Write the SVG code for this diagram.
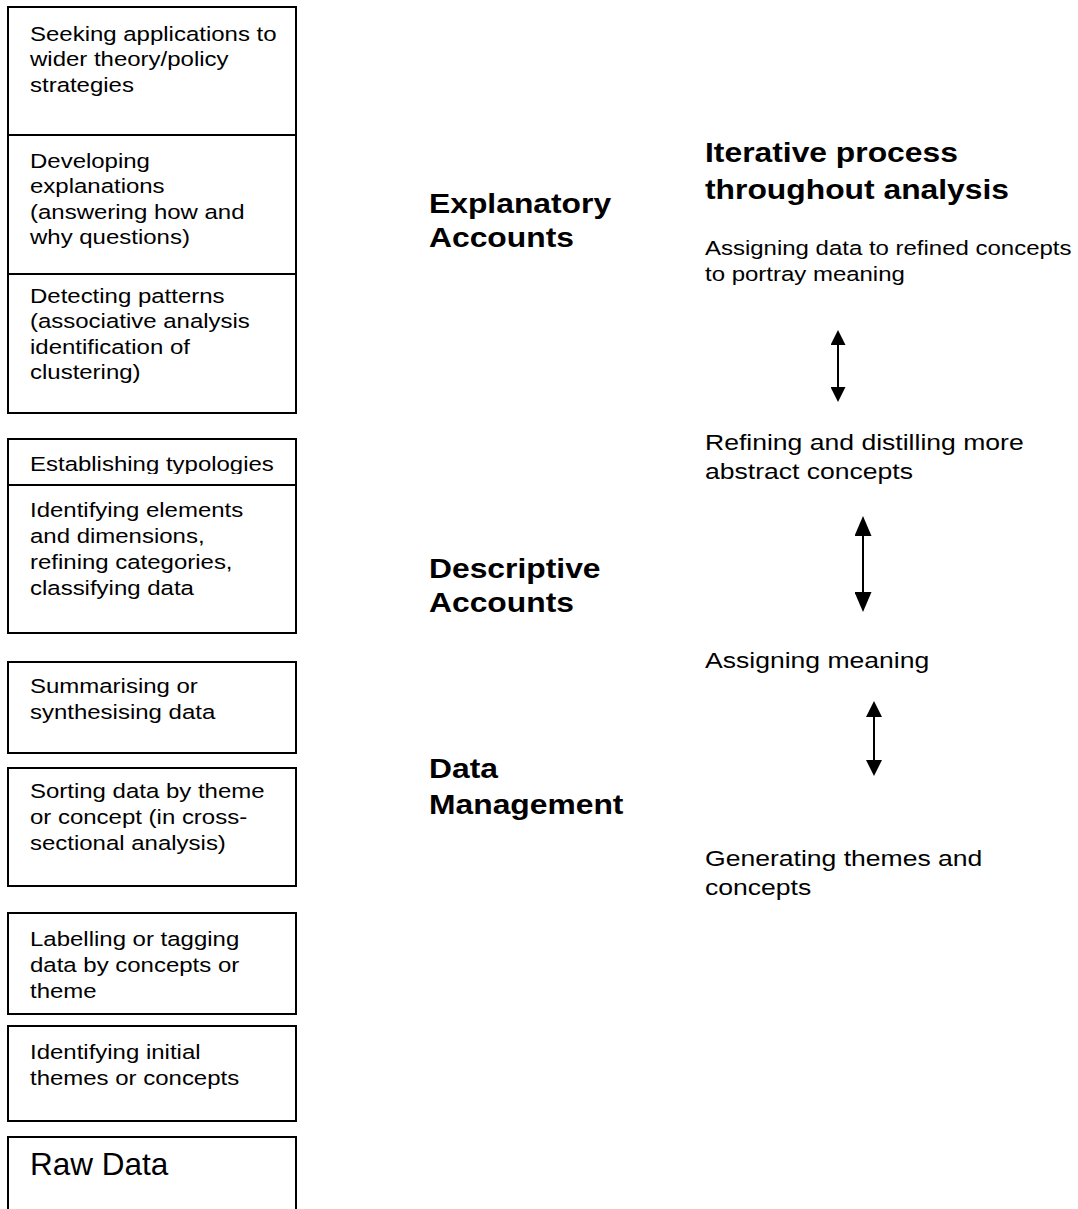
<svg xmlns="http://www.w3.org/2000/svg" width="1078" height="1209" viewBox="0 0 1078 1209">
<style>
.box{fill:#fff;stroke:#000;stroke-width:2}
.t{font-family:"Liberation Sans",Arial,Helvetica,sans-serif;font-size:20.5px;fill:#000}
.m{font-family:"Liberation Sans",Arial,Helvetica,sans-serif;font-size:22.7px;fill:#000}
.b{font-family:"Liberation Sans",Arial,Helvetica,sans-serif;font-size:27.2px;font-weight:bold;fill:#000}
.raw{font-family:"Liberation Sans",Arial,Helvetica,sans-serif;font-size:31.5px;fill:#000}
.conn{stroke:#000;stroke-width:2;fill:none}
</style>
<defs>
<marker id="hA" markerUnits="userSpaceOnUse" markerWidth="15" markerHeight="15" viewBox="0 0 15 15" refX="9" refY="7.5" orient="auto-start-reverse"><path d="M0,0 L15,7.5 L0,15 Z" fill="#000"/></marker>
<marker id="hB" markerUnits="userSpaceOnUse" markerWidth="20" markerHeight="17" viewBox="0 0 20 17" refX="14" refY="8.5" orient="auto-start-reverse"><path d="M0,0 L20,8.5 L0,17 Z" fill="#000"/></marker>
<marker id="hC" markerUnits="userSpaceOnUse" markerWidth="16" markerHeight="16" viewBox="0 0 16 16" refX="10" refY="8" orient="auto-start-reverse"><path d="M0,0 L16,8 L0,16 Z" fill="#000"/></marker>
<clipPath id="clipEst"><rect x="8" y="439" width="288" height="35"/></clipPath>
</defs>
<rect width="1078" height="1209" fill="#fff"/>

<g id="n1">
<rect class="box" x="8" y="7" width="288" height="128"/>
<g transform="translate(30 0) scale(1.17 1)"><text class="t"><tspan x="0" y="41">Seeking applications to</tspan><tspan x="0" y="66.5">wider theory/policy</tspan><tspan x="0" y="92">strategies</tspan></text></g>
</g>
<g id="n2">
<rect class="box" x="8" y="135" width="288" height="139"/>
<g transform="translate(30 0) scale(1.17 1)"><text class="t"><tspan x="0" y="168">Developing</tspan><tspan x="0" y="193.5">explanations</tspan><tspan x="0" y="219">(answering how and</tspan><tspan x="0" y="244.5">why questions)</tspan></text></g>
</g>
<g id="n3">
<rect class="box" x="8" y="274" width="288" height="139"/>
<g transform="translate(30 0) scale(1.17 1)"><text class="t"><tspan x="0" y="303">Detecting patterns</tspan><tspan x="0" y="328.5">(associative analysis</tspan><tspan x="0" y="354">identification of</tspan><tspan x="0" y="379.5">clustering)</tspan></text></g>
</g>
<g id="n4">
<rect class="box" x="8" y="439" width="288" height="46"/>
<g clip-path="url(#clipEst)"><g transform="translate(30 0) scale(1.17 1)"><text class="t" x="0" y="471">Establishing typologies</text></g></g>
</g>
<g id="n5">
<rect class="box" x="8" y="485" width="288" height="148"/>
<g transform="translate(30 0) scale(1.17 1)"><text class="t"><tspan x="0" y="517">Identifying elements</tspan><tspan x="0" y="543">and dimensions,</tspan><tspan x="0" y="569">refining categories,</tspan><tspan x="0" y="595">classifying data</tspan></text></g>
</g>
<g id="n6">
<rect class="box" x="8" y="662" width="288" height="91"/>
<g transform="translate(30 0) scale(1.17 1)"><text class="t"><tspan x="0" y="693">Summarising or</tspan><tspan x="0" y="719">synthesising data</tspan></text></g>
</g>
<g id="n7">
<rect class="box" x="8" y="768" width="288" height="118"/>
<g transform="translate(30 0) scale(1.17 1)"><text class="t"><tspan x="0" y="798">Sorting data by theme</tspan><tspan x="0" y="824">or concept (in cross-</tspan><tspan x="0" y="850">sectional analysis)</tspan></text></g>
</g>
<g id="n8">
<rect class="box" x="8" y="913" width="288" height="101"/>
<g transform="translate(30 0) scale(1.17 1)"><text class="t"><tspan x="0" y="946">Labelling or tagging</tspan><tspan x="0" y="972">data by concepts or</tspan><tspan x="0" y="998">theme</tspan></text></g>
</g>
<g id="n9">
<rect class="box" x="8" y="1026" width="288" height="95"/>
<g transform="translate(30 0) scale(1.17 1)"><text class="t"><tspan x="0" y="1059">Identifying initial</tspan><tspan x="0" y="1085">themes or concepts</tspan></text></g>
</g>
<g id="n10">
<rect class="box" x="8" y="1137" width="288" height="90"/>
<text class="raw" x="30" y="1175">Raw Data</text>
</g>

<g id="lbl-explanatory"><g transform="translate(429 0) scale(1.17 1)"><text class="b"><tspan x="0" y="213">Explanatory</tspan><tspan x="0" y="247">Accounts</tspan></text></g></g>
<g id="lbl-descriptive"><g transform="translate(429 0) scale(1.17 1)"><text class="b"><tspan x="0" y="578">Descriptive</tspan><tspan x="0" y="612">Accounts</tspan></text></g></g>
<g id="lbl-data"><g transform="translate(429 0) scale(1.17 1)"><text class="b"><tspan x="0" y="778">Data</tspan><tspan x="0" y="814">Management</tspan></text></g></g>

<g id="title"><g transform="translate(705 0) scale(1.17 1)"><text class="b"><tspan x="0" y="162">Iterative process</tspan><tspan x="0" y="199">throughout analysis</tspan></text></g></g>
<g id="r1"><g transform="translate(705 0) scale(1.17 1)"><text class="t"><tspan x="0" y="255">Assigning data to refined concepts</tspan><tspan x="0" y="281">to portray meaning</tspan></text></g></g>
<g id="r2"><g transform="translate(705 0) scale(1.17 1)"><text class="m"><tspan x="0" y="450">Refining and distilling more</tspan><tspan x="0" y="479">abstract concepts</tspan></text></g></g>
<g id="r3"><g transform="translate(705 0) scale(1.17 1)"><text class="m" x="0" y="668">Assigning meaning</text></g></g>
<g id="r4"><g transform="translate(705 0) scale(1.17 1)"><text class="m"><tspan x="0" y="866">Generating themes and</tspan><tspan x="0" y="895">concepts</tspan></text></g></g>

<g id="connectors">
<line class="conn" x1="838" y1="336" x2="838" y2="396" marker-start="url(#hA)" marker-end="url(#hA)"/>
<line class="conn" x1="863" y1="522" x2="863" y2="606" marker-start="url(#hB)" marker-end="url(#hB)"/>
<line class="conn" x1="874" y1="707" x2="874" y2="770" marker-start="url(#hC)" marker-end="url(#hC)"/>
</g>
</svg>
